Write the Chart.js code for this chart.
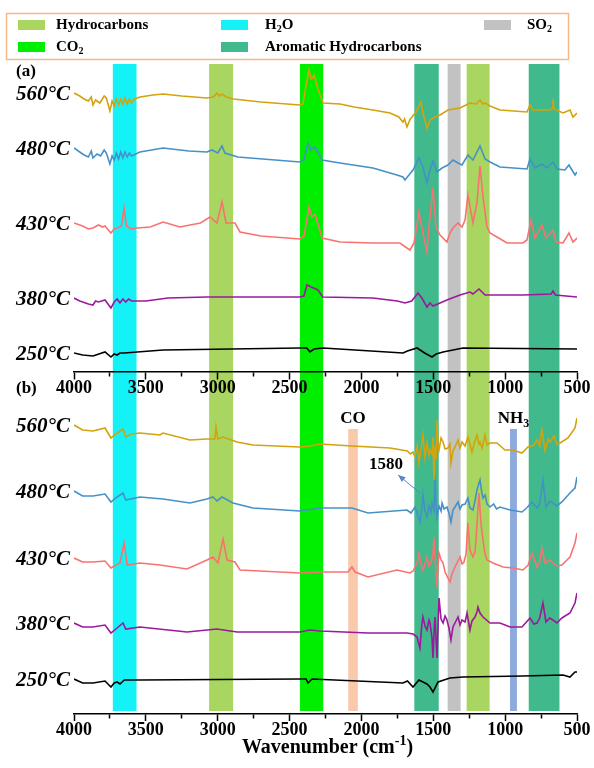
<!DOCTYPE html>
<html>
<head>
<meta charset="utf-8">
<script src="https://cdn.jsdelivr.net/npm/chart.js@4.4.1/dist/chart.umd.min.js"></script>
<style>
  html, body { margin: 0; padding: 0; background: #fff; }
  #ftir { display: block; }
</style>
</head>
<body>
<canvas id="ftir" width="594" height="768"></canvas>
<script>
// FTIR spectra, [wavenumber (cm-1), absorbance (a.u., stacked)]
// panel (a)
const a560 = [[4000,62.1],[3960,61.8],[3930,61.5],[3900,61.3],[3880,61.7],[3868,60.9],[3850,61.4],[3820,61.1],[3790,61.8],[3775,61.6],[3750,60.3],[3735,61.3],[3720,60.8],[3705,61.5],[3690,60.9],[3675,61.5],[3660,61.0],[3645,61.6],[3630,61.0],[3615,61.5],[3600,61.1],[3580,61.5],[3541,61.7],[3450,61.9],[3380,62.0],[3250,61.8],[3075,61.6],[3030,61.7],[3005,62.1],[2990,61.8],[2970,62.0],[2940,61.7],[2890,61.5],[2700,61.2],[2428,60.9],[2407,61.0],[2385,62.9],[2365,64.4],[2350,63.5],[2340,63.6],[2330,63.9],[2300,62.4],[2267,61.1],[2149,61.0],[2050,60.7],[1920,60.4],[1801,60.1],[1740,59.7],[1711,59.2],[1700,59.5],[1683,58.7],[1660,59.5],[1648,59.7],[1620,60.2],[1600,60.8],[1586,61.2],[1571,60.1],[1555,59.2],[1544,58.6],[1523,59.4],[1488,59.7],[1453,59.9],[1398,60.4],[1314,60.6],[1245,61.1],[1200,61.0],[1175,61.4],[1155,61.0],[1140,61.1],[1105,60.8],[1036,60.4],[848,60.2],[827,60.9],[806,60.4],[688,60.4],[672,60.6],[667,61.5],[660,60.5],[597,60.1],[549,60.4],[528,59.7],[500,60.1]];
const a480 = [[4000,56.6],[3960,56.2],[3930,55.9],[3900,55.7],[3880,56.3],[3868,55.6],[3840,56.0],[3815,55.8],[3790,56.4],[3775,56.1],[3750,55.0],[3735,55.8],[3720,55.4],[3705,56.1],[3690,55.5],[3675,56.2],[3660,55.6],[3645,56.2],[3630,55.7],[3615,56.1],[3600,55.8],[3541,56.2],[3380,56.6],[3200,56.3],[3075,56.2],[3040,56.4],[3000,56.1],[2970,56.8],[2950,56.1],[2860,55.7],[2428,55.2],[2400,55.4],[2372,57.1],[2350,56.4],[2323,56.7],[2274,55.4],[2149,55.1],[1920,54.6],[1753,53.9],[1711,53.7],[1697,53.4],[1675,53.8],[1641,54.4],[1600,55.6],[1572,54.7],[1544,53.1],[1523,54.4],[1502,55.3],[1474,54.2],[1439,54.6],[1398,54.9],[1363,55.4],[1328,55.1],[1300,54.9],[1259,55.9],[1224,55.4],[1175,56.8],[1140,55.5],[1105,55.2],[1036,54.7],[848,54.5],[827,55.5],[792,54.6],[744,55.0],[709,54.6],[667,55.2],[639,54.5],[584,54.4],[556,54.9],[514,53.9],[500,54.2]];
const a430 = [[4000,49.1],[3940,48.8],[3900,48.5],[3868,48.6],[3830,48.9],[3800,48.7],[3784,48.8],[3743,48.1],[3720,48.5],[3700,48.6],[3670,48.8],[3652,50.6],[3635,48.8],[3600,48.5],[3562,48.6],[3470,48.7],[3380,49.2],[3263,48.7],[3120,49.1],[3054,49.7],[3005,49.1],[2970,51.2],[2942,49.1],[2880,49.1],[2845,48.2],[2700,47.8],[2428,47.5],[2400,47.8],[2365,50.7],[2345,49.7],[2323,50.0],[2274,47.6],[2149,47.2],[1920,47.1],[1732,47.1],[1683,46.6],[1662,46.4],[1634,47.1],[1600,50.2],[1572,48.1],[1544,46.2],[1530,48.7],[1502,52.6],[1481,48.7],[1453,47.9],[1405,47.2],[1384,48.1],[1363,48.6],[1328,49.1],[1300,48.7],[1279,49.4],[1259,51.9],[1224,49.1],[1196,51.1],[1175,54.8],[1154,51.7],[1126,48.7],[1105,48.1],[1057,47.7],[987,47.1],[876,47.1],[848,47.4],[820,49.4],[792,47.6],[744,48.9],[716,47.6],[667,48.4],[646,47.2],[597,47.1],[556,48.1],[528,47.2],[500,47.6]];
const a380 = [[4000,41.6],[3960,41.3],[3940,41.2],[3900,41.0],[3868,40.9],[3850,41.3],[3830,41.2],[3784,41.4],[3743,40.6],[3720,41.2],[3700,41.5],[3680,41.1],[3660,41.5],[3640,41.2],[3620,41.5],[3600,41.3],[3500,41.3],[3346,41.6],[3075,41.7],[2428,41.7],[2400,41.8],[2379,42.9],[2350,42.7],[2302,42.4],[2270,41.7],[1920,41.6],[1750,41.3],[1697,41.1],[1650,41.3],[1607,42.1],[1580,41.6],[1544,40.7],[1523,41.1],[1502,40.8],[1405,41.4],[1314,41.9],[1245,42.2],[1224,42.0],[1182,42.5],[1140,41.9],[876,41.9],[680,42.0],[667,42.3],[650,41.9],[500,41.7]];
const a250 = [[4000,36.1],[3940,35.9],[3868,35.8],[3784,36.2],[3743,35.7],[3720,36.0],[3700,35.9],[3680,36.1],[3650,36.1],[3380,36.4],[2428,36.6],[2380,36.6],[2358,36.2],[2330,36.5],[2267,36.6],[1711,36.1],[1680,36.3],[1613,36.6],[1560,36.1],[1509,35.7],[1480,36.0],[1432,36.2],[1293,36.6],[500,36.5]];
// panel (b)
const b560 = [[4000,28.9],[3940,28.4],[3868,28.3],[3784,28.6],[3743,27.6],[3700,28.1],[3659,28.5],[3640,27.7],[3600,28.0],[3541,28.1],[3402,27.9],[3381,28.1],[3193,27.4],[3075,27.5],[3020,27.5],[3012,28.7],[3000,27.5],[2963,27.7],[2866,27.2],[2755,26.9],[2428,26.7],[2358,26.8],[2288,27.0],[2066,26.8],[1801,26.6],[1680,26.3],[1660,26.0],[1641,26.2],[1627,25.7],[1612,26.8],[1600,25.1],[1586,26.5],[1572,27.9],[1558,25.7],[1544,27.1],[1530,25.9],[1523,26.4],[1509,26.0],[1502,27.7],[1495,23.4],[1488,26.8],[1481,25.5],[1474,29.4],[1467,27.0],[1460,26.4],[1446,27.6],[1432,27.2],[1418,26.5],[1398,26.6],[1384,27.0],[1377,25.1],[1363,26.3],[1349,26.7],[1328,27.4],[1314,26.6],[1300,27.2],[1279,26.8],[1259,27.7],[1245,27.0],[1231,26.2],[1210,27.3],[1196,27.9],[1182,27.0],[1175,27.2],[1161,26.6],[1140,27.9],[1126,26.9],[1105,27.1],[1057,27.1],[1001,26.4],[945,26.4],[883,26.1],[841,26.7],[800,26.9],[778,27.4],[760,26.8],[744,28.4],[723,26.4],[700,27.5],[688,27.2],[660,27.8],[640,27.0],[618,27.1],[563,27.6],[514,28.6],[500,29.6]];
const b480 = [[4000,22.3],[3940,21.8],[3868,21.8],[3784,22.0],[3743,21.2],[3700,21.7],[3659,22.1],[3640,21.4],[3541,21.7],[3381,21.5],[3193,21.1],[3075,21.5],[3033,21.7],[3005,21.3],[2970,21.7],[2894,21.1],[2755,20.6],[2428,20.3],[2288,20.6],[2066,20.6],[1954,20.1],[1683,20.4],[1655,20.1],[1627,20.7],[1610,20.0],[1593,19.2],[1580,20.6],[1572,21.9],[1558,20.3],[1544,19.7],[1530,20.8],[1516,20.2],[1509,21.1],[1495,20.4],[1488,23.7],[1481,20.9],[1474,19.7],[1460,20.8],[1446,20.3],[1439,21.1],[1425,20.5],[1405,20.7],[1391,20.1],[1377,19.2],[1363,20.4],[1349,20.7],[1328,21.2],[1314,20.5],[1300,20.9],[1279,21.0],[1259,21.6],[1245,20.6],[1224,20.4],[1210,21.3],[1196,22.4],[1175,23.4],[1161,22.0],[1154,21.6],[1140,21.9],[1126,21.0],[1105,20.7],[1080,21.0],[1060,20.5],[1036,20.7],[966,20.4],[883,20.2],[850,20.6],[813,21.2],[778,20.6],[760,21.0],[737,23.4],[716,20.7],[690,21.3],[667,21.1],[640,20.8],[605,21.2],[549,22.1],[514,22.6],[500,23.7]];
const b430 = [[4000,15.6],[3940,15.2],[3868,15.2],[3784,15.3],[3743,14.6],[3680,15.1],[3652,17.1],[3630,14.9],[3541,15.1],[3402,14.9],[3214,14.5],[3075,15.4],[3033,15.7],[2998,15.1],[2963,17.5],[2935,15.4],[2880,15.2],[2845,14.4],[2428,14.1],[2288,14.2],[2094,14.2],[2066,14.7],[2045,14.2],[1954,13.7],[1753,14.4],[1662,14.1],[1640,14.3],[1627,14.7],[1612,15.2],[1600,16.1],[1586,15.0],[1572,14.4],[1558,15.0],[1544,15.7],[1530,14.8],[1516,15.1],[1502,16.0],[1495,17.7],[1488,15.5],[1474,12.7],[1467,14.8],[1460,16.1],[1446,15.4],[1432,15.1],[1418,14.2],[1398,13.6],[1384,13.2],[1370,14.0],[1349,14.7],[1328,15.3],[1314,15.7],[1300,15.0],[1286,15.2],[1272,16.0],[1259,19.1],[1245,16.4],[1224,15.7],[1210,16.2],[1203,17.4],[1189,20.5],[1182,22.1],[1168,19.0],[1154,17.4],[1140,16.0],[1126,15.4],[1085,15.1],[1015,14.7],[945,14.6],[876,14.4],[840,14.9],[813,16.1],[778,14.7],[760,15.2],[744,16.6],[723,15.1],[690,15.4],[667,15.1],[640,14.8],[605,14.9],[549,15.7],[514,17.1],[500,18.1]];
const b380 = [[4000,9.1],[3940,8.7],[3868,8.7],[3784,8.9],[3743,8.1],[3700,8.6],[3659,9.1],[3640,8.5],[3541,8.7],[3214,8.2],[3005,8.5],[2866,8.2],[2428,8.2],[2358,8.4],[2288,8.3],[1954,8.1],[1683,8.1],[1640,8.0],[1613,7.7],[1593,6.6],[1580,8.9],[1572,9.7],[1558,8.8],[1544,8.4],[1530,9.4],[1523,9.1],[1509,7.6],[1502,5.6],[1495,8.2],[1488,9.7],[1481,7.5],[1474,5.6],[1467,8.8],[1460,11.6],[1446,9.5],[1432,9.1],[1418,9.8],[1405,9.4],[1391,8.6],[1377,7.4],[1363,8.7],[1349,9.1],[1328,9.7],[1314,8.9],[1300,9.4],[1279,9.2],[1265,10.1],[1245,8.4],[1231,9.3],[1210,9.7],[1196,10.2],[1189,10.7],[1175,10.1],[1154,9.7],[1130,9.4],[1105,9.1],[1036,9.1],[966,8.7],[883,8.7],[827,9.6],[800,9.0],[778,9.1],[760,9.6],[737,11.1],[716,9.2],[690,9.6],[667,9.4],[640,9.1],[605,9.6],[549,10.1],[514,11.1],[500,12.1]];
const b250 = [[4000,3.5],[3940,3.1],[3868,3.1],[3784,3.3],[3743,2.7],[3720,3.1],[3700,3.2],[3680,3.0],[3650,3.4],[3541,3.4],[2428,3.5],[2385,3.5],[2372,3.1],[2344,3.5],[1711,3.1],[1680,3.3],[1641,2.7],[1600,3.4],[1572,3.2],[1544,3.0],[1523,2.7],[1502,2.2],[1467,3.2],[1384,3.6],[1293,3.7],[876,3.8],[597,3.9],[549,3.7],[514,4.2],[500,4.2]];

const temps = ['560°C', '480°C', '430°C', '380°C', '250°C'];
const traceColors = ['#d4a20c', '#4591c7', '#f87370', '#9c189c', '#000000'];

// assignment bands (cm-1)
const bandFrom = [3730, 3060, 2428, 1632, 1400, 1268, 836];
const bandTo = [3565, 2893, 2266, 1462, 1310, 1108, 622];
const bandGas = ['H2O', 'Hydrocarbons', 'CO2', 'Aromatic Hydrocarbons', 'SO2', 'Hydrocarbons', 'Aromatic Hydrocarbons'];
// narrow marks only in panel (b)
const markFrom = [2092, 966];
const markTo = [2025, 918];
const markGas = ['CO', 'NH3'];

const gasColor = {
    'Hydrocarbons': '#a8d660',
    'H2O': '#14f2f7',
    'CO2': '#00ef00',
    'Aromatic Hydrocarbons': '#40b98d',
    'SO2': '#c2c2c2',
    'CO': '#f8c9aa',
    'NH3': '#8eaadc'
};
const legendOrder = ['Hydrocarbons', 'H2O', 'SO2', 'CO2', 'Aromatic Hydrocarbons'];

const yMax = 65, bandBottom = 0.3, markTop = 28.5, axisA = 34.2;
const peakLabel = '1580';
const peakText = [1829, 24.9];
const peakArrow = [[1592, 22.1], [1745, 23.9]];

const SERIF = '"Liberation Serif", "Times New Roman", serif';

// split "H2O" -> H, 2 (subscript), O
function chem(s) {
    return s.split(/(\d+)/).filter(Boolean).map(t => /^\d+$/.test(t) ? { t: t, s: 'sub' } : { t: t });
}

function richText(ctx, parts, x, y, size, align, style) {
    const big = (style || 'bold') + ' ' + size + 'px ' + SERIF;
    const small = (style || 'bold') + ' ' + Math.round(size * 0.68) + 'px ' + SERIF;
    let w = 0;
    parts.forEach(p => { ctx.font = p.s ? small : big; w += ctx.measureText(p.t).width; });
    let cx = align === 'center' ? x - w / 2 : (align === 'right' ? x - w : x);
    ctx.textAlign = 'left';
    ctx.textBaseline = 'middle';
    parts.forEach(p => {
        ctx.font = p.s ? small : big;
        let dy = 0;
        if (p.s === 'sub') dy = size * 0.3;
        if (p.s === 'sup') dy = -size * 0.35;
        ctx.fillText(p.t, cx, y + dy);
        cx += ctx.measureText(p.t).width;
    });
}

// bands go behind everything, scales included
const bandPlugin = {
    id: 'bands',
    beforeDraw(chart) {
        const { ctx, scales: { x, y } } = chart;
        ctx.save();
        const fillBand = (from, to, top, color) => {
            const x1 = x.getPixelForValue(from), x2 = x.getPixelForValue(to);
            const y1 = y.getPixelForValue(top), y2 = y.getPixelForValue(bandBottom);
            ctx.fillStyle = color;
            ctx.fillRect(Math.min(x1, x2), y1, Math.abs(x2 - x1), y2 - y1);
        };
        bandFrom.forEach((f, i) => fillBand(f, bandTo[i], yMax, gasColor[bandGas[i]]));
        markFrom.forEach((f, i) => fillBand(f, markTo[i], markTop, gasColor[markGas[i]]));
        ctx.restore();
    }
};

const textPlugin = {
    id: 'texts',
    afterDraw(chart) {
        const { ctx, chartArea, scales: { x, y } } = chart;
        ctx.save();
        ctx.fillStyle = '#000';

        // temperature labels next to the start of each trace
        chart.data.datasets.forEach((ds, i) => {
            const p = chart.getDatasetMeta(i).data[0];
            richText(ctx, [{ t: temps[i % 5] }], chartArea.left - 4, p.y + 2, 21, 'right', 'italic bold');
        });

        // panel letters
        richText(ctx, [{ t: '(a)' }], 16, chartArea.top + 8, 17, 'left');
        richText(ctx, [{ t: '(b)' }], 16, y.getPixelForValue(axisA) + 17, 17, 'left');

        // CO / NH3 labels above the narrow marks
        markGas.forEach((g, i) => {
            const cx = (x.getPixelForValue(markFrom[i]) + x.getPixelForValue(markTo[i])) / 2;
            richText(ctx, chem(g), cx, y.getPixelForValue(markTop) - 10, 17, 'center');
        });

        // 1580 annotation and arrow
        richText(ctx, [{ t: peakLabel }], x.getPixelForValue(peakText[0]), y.getPixelForValue(peakText[1]), 17, 'center');
        const ax1 = x.getPixelForValue(peakArrow[0][0]), ay1 = y.getPixelForValue(peakArrow[0][1]);
        const ax2 = x.getPixelForValue(peakArrow[1][0]), ay2 = y.getPixelForValue(peakArrow[1][1]);
        const ang = Math.atan2(ay2 - ay1, ax2 - ax1);
        ctx.strokeStyle = '#5b87c5';
        ctx.fillStyle = '#5b87c5';
        ctx.lineWidth = 1;
        ctx.beginPath();
        ctx.moveTo(ax1, ay1);
        ctx.lineTo(ax2, ay2);
        ctx.stroke();
        ctx.beginPath();
        ctx.moveTo(ax2, ay2);
        ctx.lineTo(ax2 - 8 * Math.cos(ang - 0.4), ay2 - 8 * Math.sin(ang - 0.4));
        ctx.lineTo(ax2 - 8 * Math.cos(ang + 0.4), ay2 - 8 * Math.sin(ang + 0.4));
        ctx.closePath();
        ctx.fill();

        // x title with superscript
        ctx.fillStyle = '#000';
        richText(ctx, [{ t: 'Wavenumber (cm' }, { t: '-1', s: 'sup' }, { t: ')' }],
            (chartArea.left + chartArea.right) / 2 + 2, 748, 20, 'center');

        // legend box
        ctx.strokeStyle = '#f5b88a';
        ctx.lineWidth = 1.5;
        ctx.strokeRect(6.5, 13.5, 562, 46);
        const swX = [18, 221, 484], txX = [56, 265, 527], rowY = [25, 47];
        legendOrder.forEach((g, i) => {
            const col = i < 3 ? i : i - 3, row = i < 3 ? 0 : 1;
            ctx.fillStyle = gasColor[g];
            ctx.fillRect(swX[col], rowY[row] - 5, 27, 10);
            ctx.fillStyle = '#000';
            richText(ctx, chem(g), txX[col], rowY[row], 15, 'left');
        });
        ctx.restore();
    }
};

const tickFont = { family: SERIF, size: 18, weight: 'bold', lineHeight: 1 };
function wnAxis(extra) {
    return Object.assign({
        type: 'linear',
        axis: 'x',
        min: 500,
        max: 4000,
        reverse: true,
        ticks: {
            stepSize: 250,
            autoSkip: false,
            maxRotation: 0,
            padding: 0,
            color: '#000',
            font: tickFont,
            callback: v => (v % 500 === 0 ? String(v) : '')
        },
        grid: {
            drawOnChartArea: false,
            drawTicks: true,
            tickLength: 7,
            tickWidth: 1.5,
            tickColor: '#000',
            tickBorderDash: c => (c.tick && c.tick.value % 500 !== 0 ? [4, 30] : [])
        },
        border: { display: true, color: '#000', width: 1.5 }
    }, extra);
}

const series = [a560, a480, a430, a380, a250, b560, b480, b430, b380, b250];

new Chart(document.getElementById('ftir'), {
    type: 'line',
    data: {
        datasets: series.map((d, i) => ({
            label: (i < 5 ? '(a) ' : '(b) ') + temps[i % 5],
            data: d,
            borderColor: traceColors[i % 5],
            borderWidth: 1.6,
            pointRadius: 0,
            tension: 0,
            fill: false
        }))
    },
    options: {
        responsive: false,
        animation: false,
        devicePixelRatio: 1,
        layout: { padding: { top: 64, left: 74, right: 17, bottom: 0 } },
        plugins: { legend: { display: false }, tooltip: { enabled: false } },
        scales: {
            x: wnAxis({ position: 'bottom', afterFit: s => { s.height = 54; } }),
            xa: wnAxis({ position: { y: axisA } }),
            y: { type: 'linear', display: false, min: 0, max: yMax }
        }
    },
    plugins: [bandPlugin, textPlugin]
});
</script>
</body>
</html>
